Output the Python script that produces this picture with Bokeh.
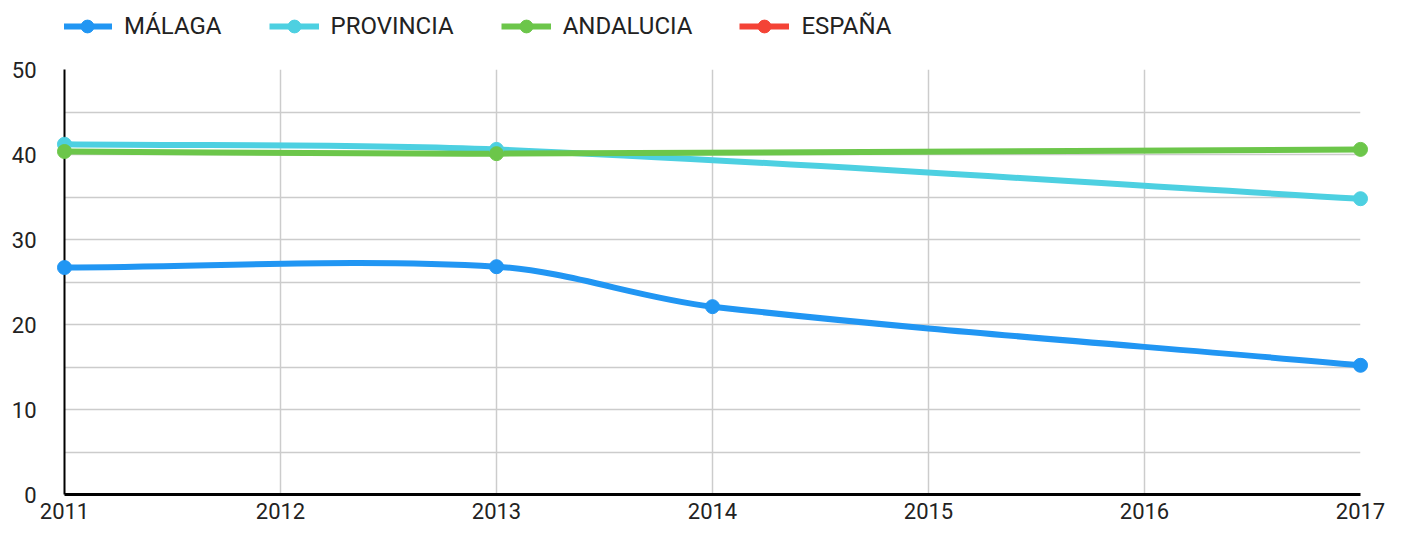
from bokeh.plotting import figure
from bokeh.layouts import column
from bokeh.models import FixedTicker, Legend, LegendItem, ColumnDataSource
from bokeh.embed import file_html
from bokeh.resources import INLINE

# ---- data ----
series_names = ["MÁLAGA", "PROVINCIA", "ANDALUCIA", "ESPAÑA"]
malaga_years = [2011, 2013, 2014, 2017]
malaga = [26.7, 26.8, 22.1, 15.2]
provincia_years = [2011, 2013, 2017]
provincia = [41.2, 40.6, 34.8]
andalucia_years = [2011, 2013, 2017]
andalucia = [40.35, 40.1, 40.6]
espana_years = []
espana = []
x_ticks = [2011, 2012, 2013, 2014, 2015, 2016, 2017]
y_ticks = [0, 10, 20, 30, 40, 50]
y_minor = [5, 15, 25, 35, 45]

colors = ["#2196f3", "#4dd0e1", "#6cc64a", "#f44336"]
FONT = "Roboto"
NAN = float("nan")

W = 1388
LEG_H = 55
MAIN_H = 470

# ---- legend strip ----
lg = figure(width=W, height=LEG_H, output_backend="svg", toolbar_location=None,
            x_range=(0, 1), y_range=(0, 1), min_border=0,
            x_axis_location=None, y_axis_location=None)
lg.grid.visible = False
lg.outline_line_color = None
lg.border_fill_color = "white"

# ---- main chart ----
p = figure(width=W, height=MAIN_H, output_backend="svg", toolbar_location=None,
           x_range=(2011, 2017), y_range=(0, 50),
           min_border_left=64, min_border_right=28, min_border_top=14, min_border_bottom=31)
p.outline_line_color = None
p.background_fill_color = "white"
p.border_fill_color = "white"

p.xgrid.ticker = FixedTicker(ticks=x_ticks)
p.ygrid.ticker = FixedTicker(ticks=y_ticks, minor_ticks=y_minor)
for g in (p.xgrid[0], p.ygrid[0]):
    g.grid_line_color = "#cccccc"
    g.grid_line_width = 1.5
p.ygrid.minor_grid_line_color = "#cccccc"
p.ygrid.minor_grid_line_width = 1.5

p.xaxis.ticker = FixedTicker(ticks=x_ticks)
p.yaxis.ticker = FixedTicker(ticks=y_ticks)
for ax in (p.xaxis[0], p.yaxis[0]):
    ax.major_tick_line_color = None
    ax.minor_tick_line_color = None
    ax.major_label_text_font = FONT
    ax.major_label_text_font_size = "22px"
    ax.major_label_text_color = "#222222"
    ax.axis_line_color = "black"
p.xaxis.axis_line_width = 3
p.yaxis.axis_line_width = 2
p.xaxis.major_label_standoff = 2
p.yaxis.major_label_standoff = 22


def smooth_segments(xs, ys):
    n = len(xs)
    m = []
    for i in range(n):
        if i == 0:
            m.append((ys[1] - ys[0]) / (xs[1] - xs[0]))
        elif i == n - 1:
            m.append((ys[i] - ys[i - 1]) / (xs[i] - xs[i - 1]))
        else:
            m.append((ys[i + 1] - ys[i - 1]) / (xs[i + 1] - xs[i - 1]))
    d = dict(x0=[], y0=[], x1=[], y1=[], cx0=[], cy0=[], cx1=[], cy1=[])
    for i in range(n - 1):
        dx = xs[i + 1] - xs[i]
        d["x0"].append(xs[i]); d["y0"].append(ys[i])
        d["x1"].append(xs[i + 1]); d["y1"].append(ys[i + 1])
        d["cx0"].append(xs[i] + dx / 3); d["cy0"].append(ys[i] + m[i] * dx / 3)
        d["cx1"].append(xs[i + 1] - dx / 3); d["cy1"].append(ys[i + 1] - m[i + 1] * dx / 3)
    return d


all_x = [malaga_years, provincia_years, andalucia_years, espana_years]
all_y = [malaga, provincia, andalucia, espana]

items = []
for name, xs, ys, c in zip(series_names, all_x, all_y, colors):
    if len(xs) > 1:
        seg = ColumnDataSource(smooth_segments(xs, ys))
        p.bezier(x0="x0", y0="y0", x1="x1", y1="y1", cx0="cx0", cy0="cy0", cx1="cx1", cy1="cy1",
                 source=seg, line_color=c, line_width=6)
    p.scatter(x=xs, y=ys, size=14, fill_color=c, line_color=c, level="overlay")
    # legend proxies in the legend strip (NaN -> nothing drawn in the strip itself)
    lr = lg.line(x=[NAN], y=[NAN], line_color=c, line_width=6)
    sr = lg.scatter(x=[NAN], y=[NAN], size=14, fill_color=c, line_color=c)
    items.append(LegendItem(label=name, renderers=[lr, sr]))

legend = Legend(items=items, orientation="horizontal", location=(-2, 13),
                glyph_width=50, glyph_height=32, label_standoff=12, spacing=47,
                label_text_font=FONT, label_text_font_size="24px", label_text_color="#222222",
                border_line_color=None, background_fill_alpha=0, padding=0, margin=0)
lg.add_layout(legend, "center")

layout = column(lg, p, spacing=0)
open("out.html", "w").write(file_html(layout, INLINE))
